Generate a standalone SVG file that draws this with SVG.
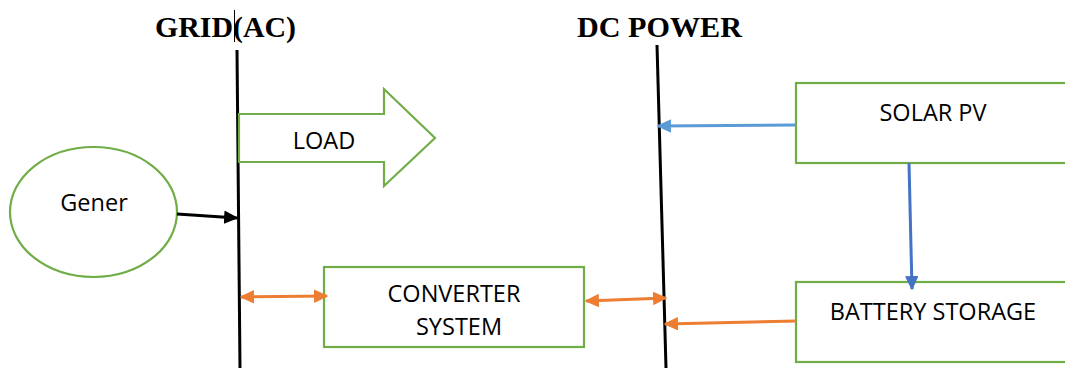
<svg xmlns="http://www.w3.org/2000/svg" width="1065" height="368" viewBox="0 0 1065 368">
  <style>
    .box { fill: #ffffff; stroke: #70ad47; stroke-width: 2.2; }
    .bus { stroke: #000000; stroke-width: 3; fill: none; }
    .title { font-family: "Liberation Serif", "Times New Roman", serif; font-weight: bold; font-size: 28.5px; fill: #000000; }
    .label { font-family: "Open Sans", "Noto Sans", sans-serif; font-size: 23.5px; fill: #000000; text-anchor: middle; }
    .blue1 { stroke: #5b9bd5; stroke-width: 3; fill: none; }
    .blue2 { stroke: #4472c4; stroke-width: 3; fill: none; }
    .orange { stroke: #ed7d31; stroke-width: 3; fill: none; }
    .black { stroke: #000000; stroke-width: 3; fill: none; }
  </style>
  <defs>
    <marker id="ahBlue1" viewBox="0 0 10 10" refX="9" refY="5" markerWidth="4.8" markerHeight="4.5" preserveAspectRatio="none" orient="auto-start-reverse" markerUnits="strokeWidth">
      <path d="M0,0 L10,5 L0,10 z" fill="#5b9bd5"/>
    </marker>
    <marker id="ahBlue2" viewBox="0 0 10 10" refX="9" refY="5" markerWidth="4.8" markerHeight="4.5" preserveAspectRatio="none" orient="auto-start-reverse" markerUnits="strokeWidth">
      <path d="M0,0 L10,5 L0,10 z" fill="#4472c4"/>
    </marker>
    <marker id="ahOrange" viewBox="0 0 10 10" refX="9" refY="5" markerWidth="4.8" markerHeight="4.5" preserveAspectRatio="none" orient="auto-start-reverse" markerUnits="strokeWidth">
      <path d="M0,0 L10,5 L0,10 z" fill="#ed7d31"/>
    </marker>
    <marker id="ahBlack" viewBox="0 0 10 10" refX="9" refY="5" markerWidth="4.8" markerHeight="4.5" preserveAspectRatio="none" orient="auto-start-reverse" markerUnits="strokeWidth">
      <path d="M0,0 L10,5 L0,10 z" fill="#000000"/>
    </marker>
  </defs>

  <!-- bus headings -->
  <g id="grid-title">
    <text class="title" x="155" y="37" textLength="141" lengthAdjust="spacingAndGlyphs">GRID(AC)</text>
    <line x1="234.5" y1="10" x2="234.5" y2="42" stroke="#000000" stroke-width="1"/>
  </g>
  <g id="dc-title">
    <text class="title" x="577" y="37" textLength="165" lengthAdjust="spacingAndGlyphs">DC POWER</text>
  </g>

  <!-- bus lines -->
  <g id="grid-bus">
    <line class="bus" x1="237" y1="50" x2="240" y2="368"/>
  </g>
  <g id="dc-bus">
    <line class="bus" x1="657" y1="45" x2="666" y2="368"/>
  </g>

  <!-- load block arrow -->
  <g id="load">
    <path class="box" d="M239,114 L384,114 L384,89 L435,138 L384,186 L384,162 L239,162 Z"/>
    <text class="label" x="324" y="149">LOAD</text>
  </g>

  <!-- generator -->
  <g id="generator">
    <ellipse class="box" cx="93.5" cy="212" rx="83.5" ry="65"/>
    <text class="label" x="94" y="211">Gener</text>
  </g>

  <!-- converter -->
  <g id="converter">
    <rect class="box" x="324" y="267" width="260" height="80"/>
    <text class="label" x="454" y="302">CONVERTER</text>
    <text class="label" x="459" y="335">SYSTEM</text>
  </g>

  <!-- solar PV -->
  <g id="solar-pv">
    <rect class="box" x="796" y="83" width="290" height="80"/>
    <text class="label" x="933" y="121">SOLAR PV</text>
  </g>

  <!-- battery storage -->
  <g id="battery">
    <rect class="box" x="796" y="282" width="290" height="80"/>
    <text class="label" x="933" y="320">BATTERY STORAGE</text>
  </g>

  <!-- connectors -->
  <g id="connectors">
    <line class="black" x1="177" y1="214" x2="237" y2="218" marker-end="url(#ahBlack)"/>
    <line class="blue1" x1="796" y1="125" x2="658" y2="126" marker-end="url(#ahBlue1)"/>
    <line class="blue2" x1="909" y1="163" x2="912" y2="289" marker-end="url(#ahBlue2)"/>
    <line class="orange" x1="796" y1="321" x2="665" y2="324" marker-end="url(#ahOrange)"/>
    <line class="orange" x1="241" y1="297" x2="327" y2="296" marker-start="url(#ahOrange)" marker-end="url(#ahOrange)"/>
    <line class="orange" x1="586" y1="301" x2="666" y2="298" marker-start="url(#ahOrange)" marker-end="url(#ahOrange)"/>
  </g>
</svg>
